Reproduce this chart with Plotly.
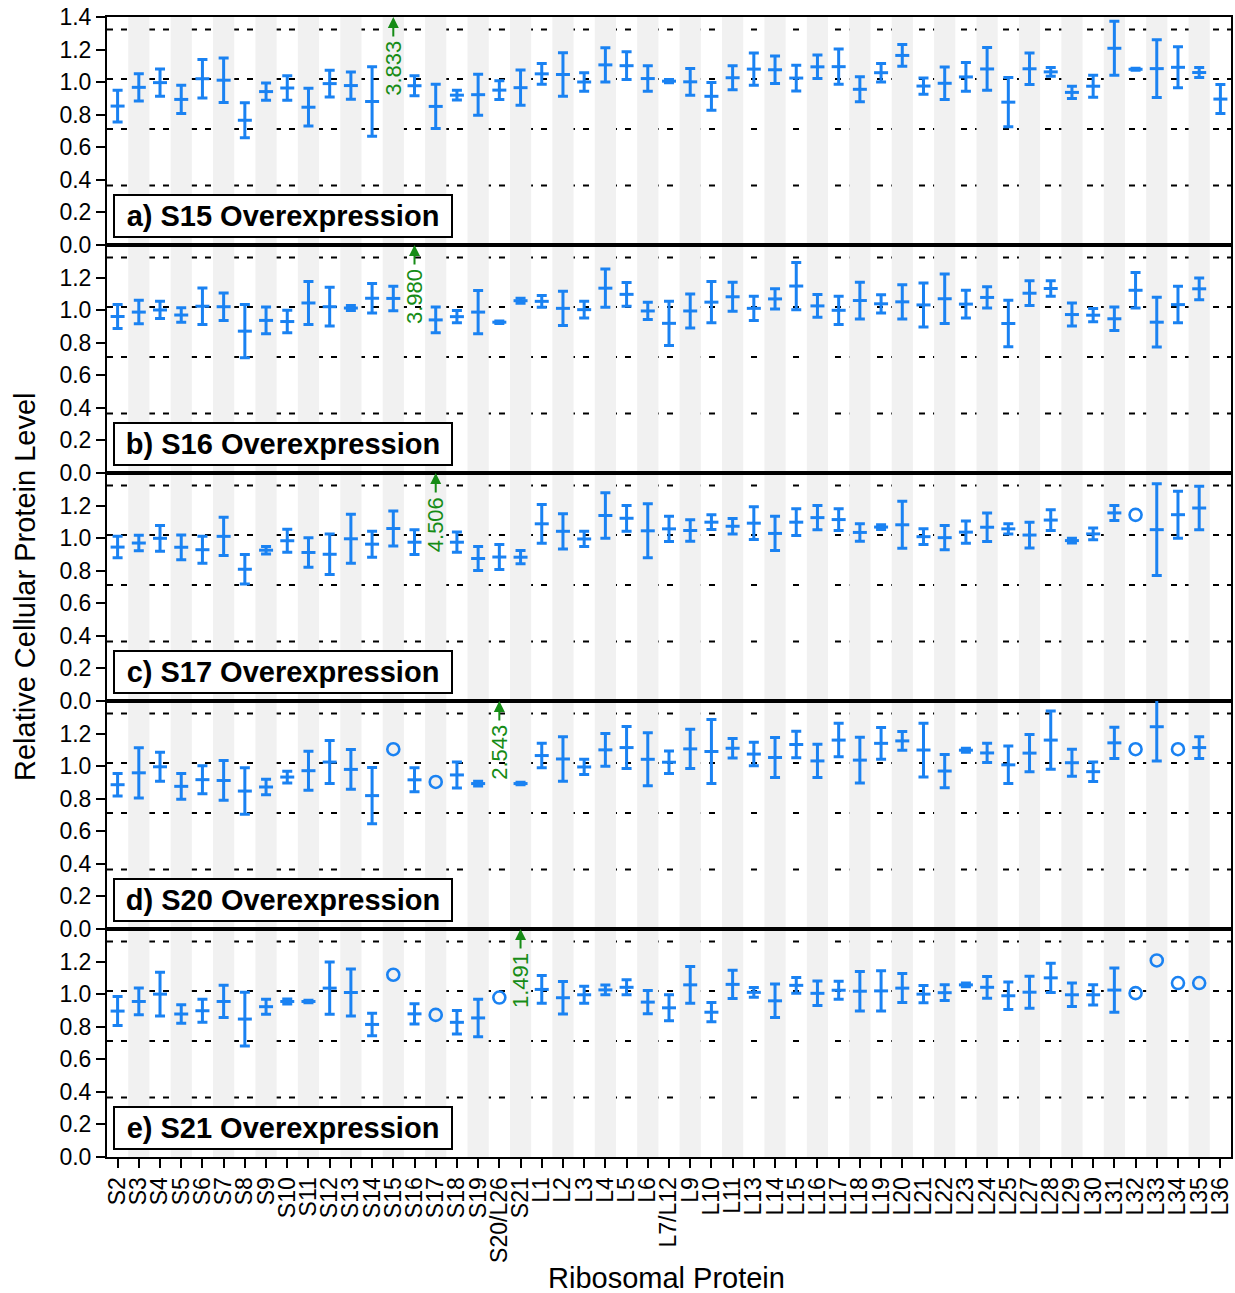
import plotly.graph_objects as go
from plotly.subplots import make_subplots

# Ribosomal proteins along the x axis
proteins = ["S2", "S3", "S4", "S5", "S6", "S7", "S8", "S9", "S10", "S11", "S12", "S13",
            "S14", "S15", "S16", "S17", "S18", "S19", "S20/L26", "S21", "L1", "L2", "L3",
            "L4", "L5", "L6", "L7/L12", "L9", "L10", "L11", "L13", "L14", "L15", "L16",
            "L17", "L18", "L19", "L20", "L21", "L22", "L23", "L24", "L25", "L27", "L28",
            "L29", "L30", "L31", "L32", "L33", "L34", "L35", "L36"]

panel_titles = ["a) S15 Overexpression", "b) S16 Overexpression", "c) S17 Overexpression",
                "d) S20 Overexpression", "e) S21 Overexpression"]
overexpressed = ["S15", "S16", "S17", "S20/L26", "S21"]
overexpressed_levels = [3.833, 3.980, 4.506, 2.543, 1.491]
reference_levels = [0.365, 0.713, 1.019, 1.324]
y_ticks = [0.0, 0.2, 0.4, 0.6, 0.8, 1.0, 1.2, 1.4]

# Mean level and SD for each protein (sd None: single measurement, mean None: not measured)
s15_mean = [0.853, 0.968, 0.997, 0.894, 1.021, 1.012, 0.766, 0.942, 0.964, 0.846, 0.991, 0.979,
            0.881, None, 0.978, 0.851, 0.920, 0.923, 0.951, 0.966, 1.051, 1.047, 1.001,
            1.106, 1.101, 1.022, 1.006, 1.002, 0.913, 1.027, 1.080, 1.076, 1.025, 1.094,
            1.095, 0.956, 1.058, 1.164, 0.976, 0.993, 1.032, 1.081, 0.877, 1.082, 1.063,
            0.937, 0.975, 1.208, 1.079, 1.083, 1.091, 1.059, 0.896]
s15_sd = [0.097, 0.084, 0.083, 0.087, 0.118, 0.137, 0.108, 0.053, 0.075, 0.116, 0.082, 0.084,
          0.213, None, 0.062, 0.136, 0.030, 0.126, 0.058, 0.108, 0.064, 0.133, 0.057,
          0.105, 0.085, 0.078, 0.010, 0.082, 0.085, 0.073, 0.099, 0.085, 0.079, 0.072,
          0.108, 0.077, 0.057, 0.067, 0.050, 0.100, 0.088, 0.131, 0.151, 0.097, 0.027,
          0.038, 0.067, 0.166, 0.006, 0.178, 0.126, 0.031, 0.089]

s16_mean = [0.961, 0.988, 1.001, 0.970, 1.024, 1.021, 0.871, 0.937, 0.930, 1.044, 1.021, 1.013,
            1.073, 1.072, None, 0.940, 0.960, 0.988, 0.926, 1.058, 1.054, 1.011, 1.003,
            1.135, 1.097, 0.995, 0.919, 0.995, 1.049, 1.082, 1.011, 1.069, 1.148, 1.026,
            0.999, 1.059, 1.039, 1.051, 1.032, 1.070, 1.037, 1.078, 0.918, 1.104, 1.133,
            0.973, 0.969, 0.947, 1.122, 0.926, 1.034, 1.131, None]
s16_sd = [0.074, 0.072, 0.053, 0.044, 0.112, 0.085, 0.163, 0.082, 0.069, 0.132, 0.119, 0.015,
          0.090, 0.075, None, 0.079, 0.038, 0.133, 0.008, 0.015, 0.036, 0.105, 0.051,
          0.117, 0.073, 0.053, 0.136, 0.104, 0.127, 0.089, 0.075, 0.062, 0.145, 0.070,
          0.087, 0.113, 0.056, 0.105, 0.135, 0.152, 0.085, 0.065, 0.143, 0.076, 0.048,
          0.071, 0.041, 0.072, 0.109, 0.153, 0.112, 0.067, None]

s17_mean = [0.945, 0.970, 0.999, 0.944, 0.929, 1.011, 0.809, 0.926, 0.984, 0.912, 0.901, 0.996,
            0.963, 1.059, 0.975, None, 0.975, 0.875, 0.884, 0.883, 1.088, 1.042, 0.995,
            1.139, 1.122, 1.045, 1.057, 1.047, 1.098, 1.073, 1.092, 1.029, 1.098, 1.126,
            1.114, 1.035, 1.068, 1.082, 1.009, 1.003, 1.037, 1.067, 1.057, 1.019, 1.111,
            0.985, 1.026, 1.155, 1.143, 1.052, 1.144, 1.185, None]
s17_sd = [0.066, 0.048, 0.079, 0.076, 0.083, 0.118, 0.090, 0.023, 0.070, 0.091, 0.125, 0.150,
          0.080, 0.108, 0.076, None, 0.062, 0.074, 0.077, 0.041, 0.119, 0.108, 0.047,
          0.139, 0.079, 0.166, 0.078, 0.066, 0.045, 0.047, 0.100, 0.105, 0.082, 0.075,
          0.067, 0.054, 0.015, 0.144, 0.048, 0.075, 0.068, 0.088, 0.031, 0.079, 0.064,
          0.015, 0.036, 0.046, None, 0.282, 0.144, 0.134, None]

s20_mean = [0.886, 0.959, 0.996, 0.876, 0.917, 0.912, 0.847, 0.872, 0.933, 0.972, 1.025, 0.980,
            0.819, 1.104, 0.916, 0.903, 0.946, 0.893, None, 0.893, 1.065, 1.044, 0.995,
            1.100, 1.114, 1.042, 1.024, 1.106, 1.090, 1.110, 1.074, 1.053, 1.133, 1.032,
            1.160, 1.037, 1.140, 1.155, 1.099, 0.970, 1.098, 1.081, 1.008, 1.080, 1.160,
            1.021, 0.966, 1.143, 1.104, 1.242, 1.104, 1.114, None]
s20_sd = [0.069, 0.154, 0.089, 0.079, 0.086, 0.122, 0.143, 0.047, 0.036, 0.120, 0.132, 0.122,
          0.172, None, 0.074, None, 0.080, 0.015, None, 0.008, 0.075, 0.137, 0.047,
          0.100, 0.129, 0.163, 0.069, 0.121, 0.197, 0.060, 0.072, 0.123, 0.082, 0.102,
          0.103, 0.140, 0.097, 0.057, 0.165, 0.102, 0.012, 0.059, 0.115, 0.115, 0.179,
          0.083, 0.060, 0.096, None, 0.210, None, 0.067, None]

s21_mean = [0.896, 0.955, 1.000, 0.878, 0.898, 0.955, 0.847, 0.923, 0.955, 0.955, 1.037, 1.010,
            0.814, 1.119, 0.879, 0.873, 0.827, 0.854, 0.979, None, 1.029, 0.978, 0.996,
            1.026, 1.042, 0.951, 0.916, 1.057, 0.889, 1.060, 1.011, 0.959, 1.054, 1.005,
            1.024, 1.018, 1.020, 1.037, 1.000, 1.009, 1.057, 1.042, 0.990, 1.012, 1.100,
            0.996, 0.996, 1.025, 1.006, 1.207, 1.068, 1.068, None]
s21_sd = [0.089, 0.082, 0.134, 0.057, 0.071, 0.099, 0.165, 0.046, 0.015, 0.008, 0.160, 0.144,
          0.069, None, 0.062, None, 0.072, 0.115, None, None, 0.085, 0.100, 0.052,
          0.030, 0.046, 0.072, 0.080, 0.113, 0.059, 0.086, 0.030, 0.103, 0.048, 0.075,
          0.055, 0.121, 0.123, 0.089, 0.053, 0.048, 0.012, 0.067, 0.084, 0.098, 0.090,
          0.072, 0.062, 0.136, None, None, None, None, None]

panels = [(s15_mean, s15_sd), (s16_mean, s16_sd), (s17_mean, s17_sd),
          (s20_mean, s20_sd), (s21_mean, s21_sd)]

BLUE = "#1a82f2"
GREEN = "#168c16"
STRIPE = "#f1f1f1"
FONT = "Liberation Sans, Arial, Helvetica, sans-serif"
n_rows = len(panels)

fig = make_subplots(rows=n_rows, cols=1, shared_xaxes=True, vertical_spacing=0)

for i, (mean, sd) in enumerate(panels):
    row = i + 1
    ex, ey, ee, cx, cy = [], [], [], [], []
    for p, m, s in zip(proteins, mean, sd):
        if m is None:
            continue
        if s is None:
            cx.append(p)
            cy.append(m)
        else:
            ex.append(p)
            ey.append(m)
            ee.append(s)
    fig.add_trace(go.Scatter(
        x=ex, y=ey, mode="markers", showlegend=False, cliponaxis=False,
        marker=dict(symbol="line-ew", size=10, color=BLUE, line=dict(width=3, color=BLUE)),
        error_y=dict(type="data", array=ee, visible=True, color=BLUE, thickness=3, width=5),
    ), row=row, col=1)
    if cx:
        fig.add_trace(go.Scatter(
            x=cx, y=cy, mode="markers", showlegend=False, cliponaxis=False,
            marker=dict(symbol="circle-open", size=12, color=BLUE, line=dict(width=2.6, color=BLUE)),
        ), row=row, col=1)

    ysuffix = "" if row == 1 else str(row)
    # dotted reference levels
    for lvl in reference_levels:
        fig.add_shape(type="line", xref="paper", x0=0, x1=1, yref="y" + ysuffix, y0=lvl, y1=lvl,
                      line=dict(color="black", width=2, dash="6px,8px"), layer="below")

    # over-range level of the overexpressed protein: arrow at the top edge plus its value
    top = y_ticks[-1]
    fig.add_annotation(
        x=overexpressed[i], y=min(overexpressed_levels[i], top),
        xref="x" + ysuffix, yref="y" + ysuffix, text="",
        showarrow=True, arrowhead=2, arrowsize=1.1, arrowwidth=2, arrowcolor=GREEN,
        ax=0, ay=21, standoff=0,
    )
    fig.add_annotation(
        x=overexpressed[i], y=min(overexpressed_levels[i], top),
        xref="x" + ysuffix, yref="y" + ysuffix,
        text=f"{overexpressed_levels[i]:.3f}", textangle=-90,
        xanchor="center", yanchor="top", yshift=-22, showarrow=False,
        font=dict(family=FONT, size=22, color=GREEN),
    )

    # panel caption box
    fig.add_annotation(
        text="<b>" + panel_titles[i] + "</b>",
        xref="paper", x=0, xanchor="left", xshift=6,
        yref="y" + ysuffix + " domain", y=0, yanchor="bottom", yshift=7,
        showarrow=False, font=dict(family=FONT, size=29, color="black"),
        bgcolor="white", bordercolor="black", borderwidth=2, borderpad=2,
        width=332, height=36, align="center",
    )

    vals = y_ticks if row == 1 else y_ticks[:-1]
    fig.update_yaxes(
        row=row, col=1, range=[0, top], tickmode="array", tickvals=vals,
        ticktext=[f"{v:.1f}" for v in vals],
        ticks="outside", ticklen=9, tickwidth=2, tickcolor="black",
        showline=True, linecolor="black", linewidth=2, mirror=True,
        showgrid=False, zeroline=False,
        tickfont=dict(family=FONT, size=23, color="black"),
    )
    fig.update_xaxes(
        row=row, col=1, type="category", categoryorder="array", categoryarray=proteins,
        range=[-0.5, len(proteins) - 0.5], tickmode="array", tickvals=proteins,
        ticktext=proteins, tickangle=-90,
        ticks="outside" if row == n_rows else "", ticklen=9, tickwidth=2, tickcolor="black",
        showticklabels=(row == n_rows),
        showline=True, linecolor="black", linewidth=2, mirror=True,
        showgrid=False, zeroline=False,
        tickfont=dict(family=FONT, size=23, color="black"),
    )

# alternating background columns
for k in range(1, len(proteins), 2):
    fig.add_shape(type="rect", xref="x", yref="paper", x0=k - 0.5, x1=k + 0.5, y0=0, y1=1,
                  fillcolor=STRIPE, line=dict(width=0), layer="below")

fig.add_annotation(text="Relative Cellular Protein Level", xref="paper", yref="paper",
                   x=0, y=0.5, xshift=-82, xanchor="center", yanchor="middle", textangle=-90,
                   showarrow=False, font=dict(family=FONT, size=29, color="black"))
fig.add_annotation(text="Ribosomal Protein", xref="paper", yref="paper",
                   x=0.5, y=0, xshift=-3, yshift=-121, xanchor="center", yanchor="middle",
                   showarrow=False, font=dict(family=FONT, size=29, color="black"))

fig.update_layout(
    width=1235, height=1293,
    margin=dict(l=107, r=2, t=17, b=136),
    paper_bgcolor="white", plot_bgcolor="white",
    font=dict(family=FONT, color="black"),
    showlegend=False,
)

fig.write_html("out.html")
